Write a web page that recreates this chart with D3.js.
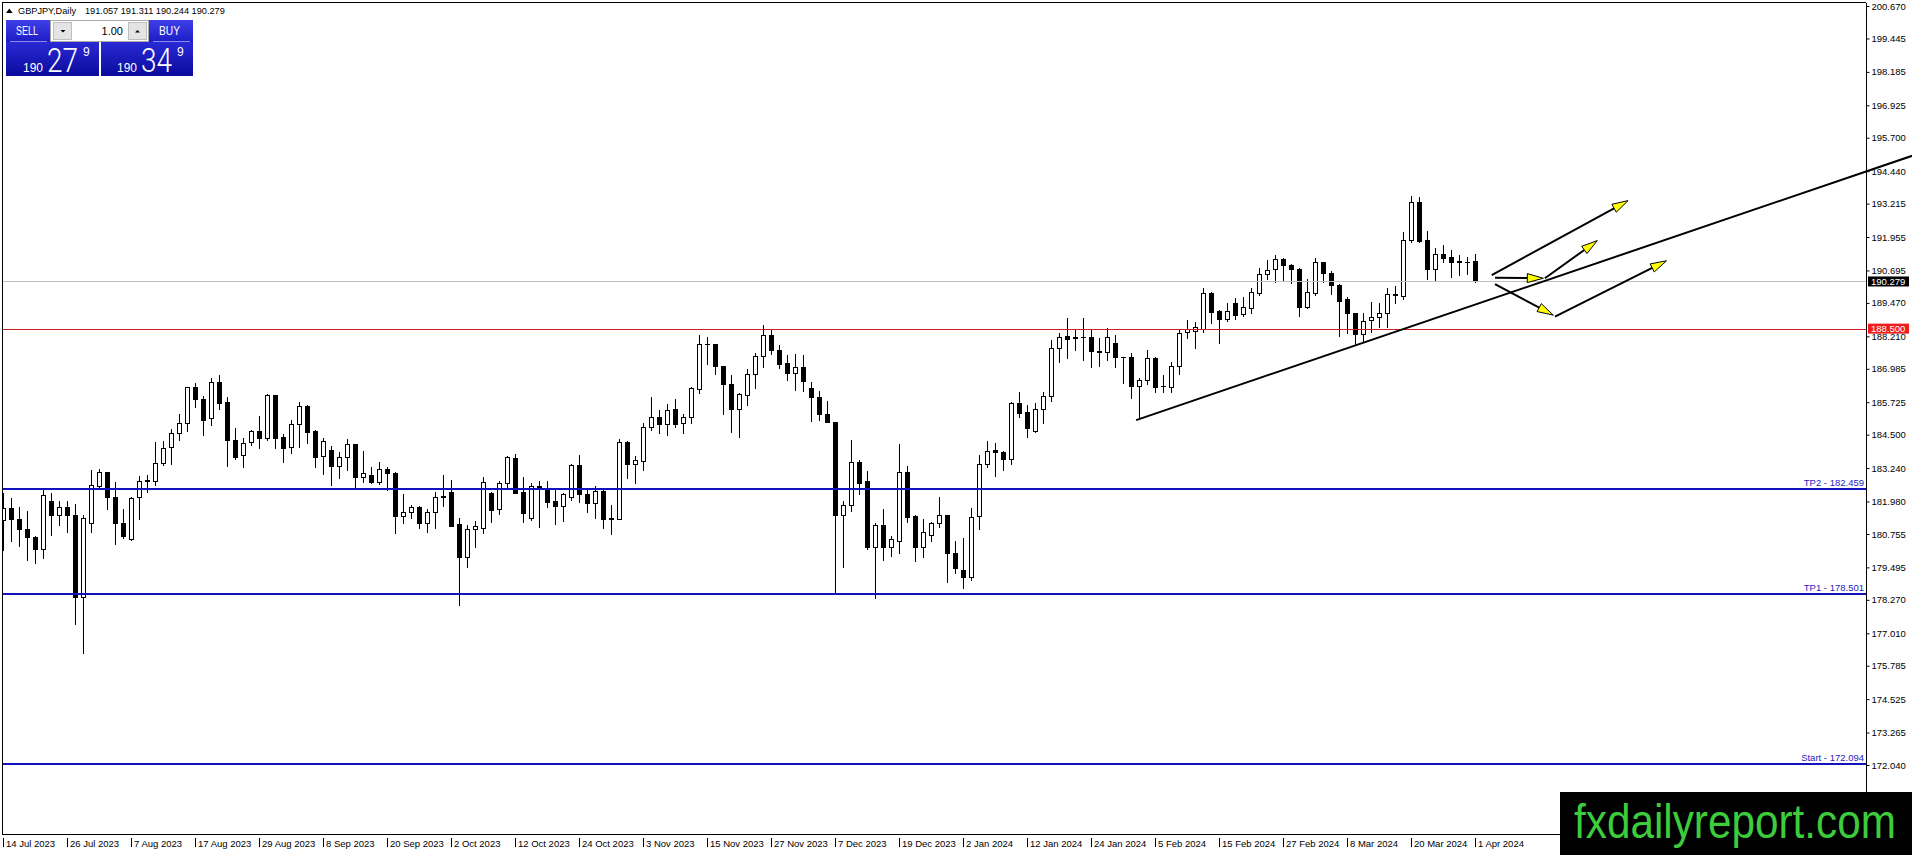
<!DOCTYPE html>
<html>
<head>
<meta charset="utf-8">
<script src="https://cdn.jsdelivr.net/npm/d3@7"></script>
<style>
html, body { margin:0; padding:0; background:#fff; overflow:hidden; }
svg { display:block; font-family:"Liberation Sans", Arial, sans-serif; }
</style>
</head>
<body>
<div class="Graph"></div>
<script>
//==========================================//data (GBPJPY daily, 14 Jul 2023 - 1 Apr 2024)
const opens = [
181.28,181.72,181.31,180.93,180.63,180.20,181.98,181.46,181.77,181.46,
178.39,181.18,182.58,183.08,182.14,181.15,180.55,182.14,182.79,182.76,
183.44,184.05,184.55,184.93,186.29,185.83,185.12,186.47,185.72,184.29,
183.72,184.21,184.62,184.39,185.98,184.40,184.05,184.89,185.58,184.64,
183.70,183.92,183.33,183.67,184.15,182.92,182.97,182.73,183.20,183.04,
181.44,181.57,181.77,181.18,181.57,182.19,182.32,181.13,179.90,180.93,
180.99,182.29,181.70,182.66,183.61,182.32,181.37,182.56,182.46,181.98,
181.82,182.16,183.34,182.26,181.91,182.37,181.34,181.33,184.21,183.38,
183.52,184.78,185.18,184.89,185.46,184.93,185.18,186.23,187.93,187.92,
187.09,186.40,185.48,186.00,186.78,187.47,188.25,187.69,187.19,186.84,
187.04,186.25,185.91,185.28,184.97,181.46,181.83,183.46,182.74,180.25,
181.08,180.25,180.50,183.08,181.43,180.27,180.70,181.16,181.47,180.02,
179.39,179.12,181.44,183.38,183.92,183.85,183.57,185.68,185.34,184.63,
185.45,185.96,187.76,188.21,188.17,188.17,188.17,187.64,187.61,187.94,
187.44,187.42,186.35,186.55,187.38,186.35,186.31,187.08,188.36,188.42,
188.47,189.83,189.16,188.85,189.45,189.05,189.29,189.86,190.55,190.74,
191.11,190.90,190.74,189.30,189.83,191.01,190.59,190.13,189.62,189.08,
188.28,188.81,188.93,189.08,189.78,189.74,191.83,193.26,191.83,190.74,
191.30,191.19,191.04,191.03,191.057];
const highs = [
182.29,182.10,181.78,181.62,180.68,182.45,182.31,182.01,182.01,181.88,
181.46,183.18,183.22,183.10,182.70,181.70,182.15,182.94,182.98,184.22,
184.25,184.70,185.28,186.31,186.46,185.96,186.62,186.75,185.91,184.74,
184.36,184.68,185.20,186.03,185.98,184.52,185.05,185.73,185.63,184.68,
184.39,184.08,183.86,184.32,184.15,183.88,183.29,183.46,183.27,183.08,
182.26,181.85,181.80,181.68,182.35,182.97,182.79,181.34,181.09,181.24,
182.92,182.34,182.74,183.70,183.76,182.89,182.66,182.75,182.75,182.41,
182.31,183.39,183.73,182.48,182.57,182.41,181.85,184.34,184.26,183.70,
184.95,185.91,185.43,185.66,185.84,185.27,186.31,188.26,188.20,187.92,
187.09,186.75,186.06,186.96,187.57,188.65,188.45,187.88,187.52,187.54,
187.52,186.50,186.15,185.77,184.97,181.98,184.30,183.54,183.13,181.18,
181.68,180.68,184.14,183.32,181.48,181.31,181.22,182.16,181.47,180.49,
180.59,181.72,183.73,184.26,184.17,183.89,185.72,186.10,185.62,185.71,
186.12,188.07,188.35,188.89,188.45,188.89,188.45,188.13,188.51,188.26,
187.44,187.57,186.65,187.69,187.42,186.75,187.25,188.47,188.83,188.76,
190.02,189.89,189.20,189.45,189.64,189.68,190.02,190.77,191.09,191.28,
191.18,190.94,190.77,190.36,191.15,191.01,190.69,190.17,189.68,189.10,
189.10,189.49,189.48,190.02,190.11,192.16,193.50,193.48,192.20,191.53,
191.65,191.47,191.28,191.19,191.311];
const lows = [
180.15,180.49,180.31,179.77,179.67,179.86,180.73,181.10,180.83,177.37,
176.28,180.83,182.54,181.71,180.39,180.61,180.53,181.33,182.32,182.60,
183.34,183.41,184.30,184.65,185.53,184.50,184.85,185.48,183.32,183.57,
183.29,184.11,184.01,184.30,184.01,183.48,183.80,184.02,184.20,183.29,
183.00,182.60,182.88,183.17,182.48,182.73,182.66,182.64,182.41,180.80,
181.16,181.37,180.99,180.84,180.99,181.81,181.07,178.08,179.52,180.25,
180.80,181.22,181.49,182.48,182.29,181.22,181.28,181.03,181.78,181.12,
181.24,182.03,181.97,181.59,181.37,180.99,180.74,181.31,182.88,182.69,
183.17,184.67,184.55,184.49,184.80,184.57,184.95,186.06,187.15,186.77,
185.27,184.59,184.42,185.62,186.25,187.07,187.54,187.00,186.56,186.19,
186.16,185.03,185.05,184.97,178.58,179.52,181.63,182.25,180.17,178.33,
179.77,179.94,180.02,181.22,179.75,179.90,180.50,181.03,178.95,179.27,
178.70,179.02,180.94,183.29,182.95,183.17,183.39,185.18,184.42,184.61,
184.95,185.78,187.23,187.38,187.69,187.32,187.06,187.10,187.32,187.06,
186.46,185.90,185.18,186.41,186.12,186.12,186.12,186.79,188.16,187.78,
188.36,188.70,187.94,188.78,188.85,188.98,189.10,189.77,190.36,190.27,
190.33,190.21,188.99,189.27,189.77,190.27,189.79,188.22,188.32,187.91,
188.01,188.39,188.55,188.55,189.48,189.60,191.78,191.78,190.36,190.31,
191.03,190.46,190.52,190.55,190.244];
const closes = [
181.72,181.31,180.93,180.63,180.20,182.21,181.46,181.77,181.46,178.39,
181.34,182.59,183.08,182.14,181.15,180.68,182.11,182.74,182.74,183.44,
183.98,184.55,184.93,186.29,185.83,185.05,186.47,185.71,184.29,183.67,
184.17,184.62,184.39,185.98,184.39,184.01,184.90,185.58,184.61,183.67,
184.26,183.33,183.65,184.15,182.92,183.04,182.73,183.20,183.07,181.44,
181.57,181.77,181.18,181.58,182.14,182.14,181.07,179.90,180.93,181.05,
182.70,181.66,182.66,183.66,182.31,181.56,182.56,182.48,181.97,181.82,
182.26,183.35,182.25,181.91,182.37,181.33,181.31,184.21,183.38,183.54,
184.80,185.18,184.89,185.43,184.91,185.18,186.25,187.92,187.91,187.09,
186.40,185.48,186.03,186.79,187.47,188.25,187.69,187.15,186.84,187.04,
186.54,185.91,185.28,184.97,181.46,181.83,183.46,182.69,180.25,181.08,
180.25,180.55,183.08,181.41,180.27,180.82,181.16,181.47,180.02,179.48,
179.12,181.41,183.38,183.88,183.83,183.57,185.68,185.30,184.74,185.45,
185.96,187.76,188.20,188.12,188.16,188.18,187.67,187.61,188.17,187.42,
187.43,186.35,186.55,187.38,186.31,186.34,187.08,188.35,188.47,188.55,
189.83,189.14,188.85,189.18,189.03,189.30,189.87,190.55,190.71,191.11,
190.89,190.74,189.30,189.89,191.00,190.59,190.13,189.55,189.08,188.28,
188.80,188.94,189.10,189.79,189.79,191.83,193.26,191.80,190.76,191.30,
191.18,191.03,191.02,191.02,190.279];

const dateLabels = ["14 Jul 2023","26 Jul 2023","7 Aug 2023","17 Aug 2023","29 Aug 2023","8 Sep 2023",
  "20 Sep 2023","2 Oct 2023","12 Oct 2023","24 Oct 2023","3 Nov 2023","15 Nov 2023","27 Nov 2023",
  "7 Dec 2023","19 Dec 2023","2 Jan 2024","12 Jan 2024","24 Jan 2024","5 Feb 2024","15 Feb 2024",
  "27 Feb 2024","8 Mar 2024","20 Mar 2024","1 Apr 2024"];
const dateIdx = [0,8,16,24,32,40,48,56,64,72,80,88,96,104,112,120,128,136,144,152,160,168,176,184];

const priceTicks = [200.670,199.445,198.185,196.925,195.700,194.440,193.215,191.955,190.695,189.470,
  188.210,186.985,185.725,184.500,183.240,181.980,180.755,179.495,178.270,177.010,175.785,174.525,173.265,172.040];

const levelNames = ["TP2","TP1","Start"];
const levelPrices = [182.459,178.501,172.094];
const bidPrice = 190.279;
const redPrice = 188.500;
const quote = ["191.057","191.311","190.244","190.279"];

const trendIdx = [141.6, 238.6];
const trendPrice = [185.05, 195.02];
// arrows: [from bar, from price, to bar, to price]
const arrows = [
  [186.05,190.52,203.10,193.33],
  [186.46,190.42,192.50,190.40],
  [192.70,190.40,199.25,191.82],
  [186.46,190.18,193.75,189.01],
  [193.96,188.95,207.90,191.06]];

//==========================================//svg area
const W = 1912, H = 855;
const plotRight = 1866, plotBottom = 834;

let svg = d3.select(".Graph").append("svg")
  .attr("width", W).attr("height", H)
  .attr("viewBox", [0, 0, W, H]);
svg.append("rect").attr("width", W).attr("height", H).attr("fill", "#fff");

let defs = svg.append("defs");
defs.append("clipPath").attr("id", "plotClip")
  .append("rect").attr("x", 3).attr("y", 3).attr("width", plotRight - 3).attr("height", plotBottom - 3);
let g1 = defs.append("linearGradient").attr("id", "hdrGrad").attr("x1", 0).attr("y1", 0).attr("x2", 0).attr("y2", 1);
g1.append("stop").attr("offset", "0%").attr("stop-color", "#4040ea");
g1.append("stop").attr("offset", "100%").attr("stop-color", "#1c1cc4");
let g2 = defs.append("linearGradient").attr("id", "pxGrad").attr("x1", 0).attr("y1", 0).attr("x2", 0).attr("y2", 1);
g2.append("stop").attr("offset", "0%").attr("stop-color", "#2a2ad6");
g2.append("stop").attr("offset", "100%").attr("stop-color", "#0a0a9c");

let x = d3.scaleLinear().domain([0, 184]).range([3.3, 1475.3]);
let y = d3.scaleLinear().domain([172.040, 200.670]).range([765, 6]);

//==========================================//candles
let plot = svg.append("g").attr("clip-path", "url(#plotClip)");
let cg = plot.append("g").attr("shape-rendering", "crispEdges");
d3.range(opens.length).forEach(i => {
  let px = Math.round(x(i));
  let o = opens[i], c = closes[i];
  let up = c >= o;
  cg.append("line")
    .attr("x1", px + 0.5).attr("x2", px + 0.5)
    .attr("y1", Math.round(y(highs[i]))).attr("y2", Math.round(y(lows[i])) + 1)
    .attr("stroke", "#000").attr("stroke-width", 1);
  let top = Math.round(y(Math.max(o, c)));
  let bot = Math.round(y(Math.min(o, c)));
  if (bot - top < 1) {
    cg.append("line")
      .attr("x1", px - 2).attr("x2", px + 3)
      .attr("y1", top + 0.5).attr("y2", top + 0.5)
      .attr("stroke", "#000").attr("stroke-width", 1);
  } else {
    cg.append("rect")
      .attr("x", px - 1.5).attr("y", top + 0.5)
      .attr("width", 4).attr("height", bot - top)
      .attr("fill", up ? "#fff" : "#000")
      .attr("stroke", "#000").attr("stroke-width", 1);
  }
});

//==========================================//horizontal levels
plot.append("line")
  .attr("x1", 3).attr("x2", plotRight)
  .attr("y1", Math.round(y(bidPrice)) + 0.5).attr("y2", Math.round(y(bidPrice)) + 0.5)
  .attr("stroke", "#c0c0c0").attr("stroke-width", 1);
plot.append("line")
  .attr("x1", 3).attr("x2", plotRight)
  .attr("y1", Math.round(y(redPrice)) + 0.5).attr("y2", Math.round(y(redPrice)) + 0.5)
  .attr("stroke", "#cc2020").attr("stroke-width", 1);

levelPrices.forEach((p, k) => {
  let ly = Math.round(y(p));
  plot.append("line")
    .attr("x1", 3).attr("x2", plotRight)
    .attr("y1", ly).attr("y2", ly)
    .attr("stroke", "#1212bf").attr("stroke-width", 2);
  svg.append("text")
    .attr("x", plotRight - 2).attr("y", ly - 3)
    .attr("text-anchor", "end")
    .attr("font-size", 9.5)
    .attr("fill", "#2424c4")
    .text(levelNames[k] + " - " + p.toFixed(3));
});

//==========================================//trendline + arrows
svg.append("line")
  .attr("x1", x(trendIdx[0])).attr("y1", y(trendPrice[0]))
  .attr("x2", x(trendIdx[1])).attr("y2", y(trendPrice[1]))
  .attr("stroke", "#000").attr("stroke-width", 2);

arrows.forEach(a => {
  let x1 = x(a[0]), y1 = y(a[1]), x2 = x(a[2]), y2 = y(a[3]);
  let len = Math.hypot(x2 - x1, y2 - y1);
  let ux = (x2 - x1) / len, uy = (y2 - y1) / len;
  let hl = 16, hw = 4.5;
  let bx = x2 - ux * hl, by = y2 - uy * hl;
  svg.append("line")
    .attr("x1", x1).attr("y1", y1).attr("x2", bx).attr("y2", by)
    .attr("stroke", "#000").attr("stroke-width", 2);
  svg.append("path")
    .attr("d", "M" + x2 + "," + y2 +
      "L" + (bx - uy * hw) + "," + (by + ux * hw) +
      "L" + (bx + uy * hw) + "," + (by - ux * hw) + "Z")
    .attr("fill", "#ffff00").attr("stroke", "#000").attr("stroke-width", 1);
});

//==========================================//frame
svg.append("path")
  .attr("d", "M" + plotRight + ",2.5H2.5V" + (plotBottom + 0.5) + "H" + (plotRight + 0.5) + "V2.5")
  .attr("fill", "none").attr("stroke", "#000").attr("stroke-width", 1)
  .attr("shape-rendering", "crispEdges");

//==========================================//price axis
let yAxis = d3.axisRight(y).tickValues(priceTicks).tickFormat(d3.format(".3f")).tickSize(3).tickPadding(2);
let ya = svg.append("g").attr("transform", "translate(" + (plotRight + 0.5) + ",0)").call(yAxis);
ya.select(".domain").remove();
ya.attr("font-family", "'Liberation Sans', Arial, sans-serif").attr("font-size", 9.5);
ya.selectAll("line").attr("stroke", "#000");
ya.selectAll("text").attr("fill", "#000");

function badge(p, bg, label) {
  let cy = y(p);
  svg.append("rect").attr("x", 1868).attr("y", cy - 5).attr("width", 41).attr("height", 10).attr("fill", bg);
  svg.append("text").attr("x", 1871).attr("y", cy).attr("dy", "0.35em")
    .attr("font-size", 9.5).attr("fill", "#fff").text(label);
}
badge(bidPrice, "#000", bidPrice.toFixed(3));
badge(redPrice, "#ee1c1c", redPrice.toFixed(3));

//==========================================//date axis
let xa = svg.append("g");
xa.selectAll(".dtick").data(dateIdx).enter().append("line")
  .attr("x1", d => Math.round(x(d)) + 0.5).attr("x2", d => Math.round(x(d)) + 0.5)
  .attr("y1", plotBottom + 4).attr("y2", plotBottom + 13)
  .attr("stroke", "#000").attr("stroke-width", 1);
xa.selectAll(".dlab").data(dateIdx).enter().append("text")
  .attr("x", d => Math.round(x(d)) + 3)
  .attr("y", plotBottom + 13)
  .attr("font-size", 9.5).attr("fill", "#000")
  .text((d, k) => dateLabels[k]);

//==========================================//title + trade panel
svg.append("path").attr("d", "M6,13L12.7,13L9.3,8.5Z").attr("fill", "#000");
svg.append("text").attr("x", 18).attr("y", 14).attr("font-size", 9.2).attr("fill", "#000")
  .text("GBPJPY,Daily");
svg.append("text").attr("x", 85).attr("y", 14).attr("font-size", 9.2).attr("fill", "#000")
  .text(quote.join(" "));

let panel = svg.append("g");
panel.append("rect").attr("x", 6).attr("y", 20).attr("width", 44).attr("height", 22).attr("fill", "url(#hdrGrad)");
panel.append("rect").attr("x", 149).attr("y", 20).attr("width", 44).attr("height", 22).attr("fill", "url(#hdrGrad)");
panel.append("rect").attr("x", 50.5).attr("y", 20.5).attr("width", 98).attr("height", 21)
  .attr("fill", "#fff").attr("stroke", "#a8a8a8");
panel.append("rect").attr("x", 53.5).attr("y", 22.5).attr("width", 18).attr("height", 17)
  .attr("fill", "#e4e4e4").attr("stroke", "#bdbdbd");
panel.append("rect").attr("x", 128.5).attr("y", 22.5).attr("width", 18).attr("height", 17)
  .attr("fill", "#e4e4e4").attr("stroke", "#bdbdbd");
panel.append("path").attr("d", "M60.5,30L65.5,30L63,32.5Z").attr("fill", "#000");
panel.append("path").attr("d", "M135,32.5L140,32.5L137.5,30Z").attr("fill", "#000");
panel.append("text").attr("x", 123).attr("y", 34.5).attr("text-anchor", "end")
  .attr("font-size", 11).attr("fill", "#000").text("1.00");

panel.append("rect").attr("x", 6).attr("y", 42).attr("width", 93).attr("height", 34).attr("fill", "url(#pxGrad)");
panel.append("rect").attr("x", 101).attr("y", 42).attr("width", 92).attr("height", 34).attr("fill", "url(#pxGrad)");
panel.append("line").attr("x1", 10).attr("x2", 47).attr("y1", 41.5).attr("y2", 41.5).attr("stroke", "#8a8af0");
panel.append("line").attr("x1", 153).attr("x2", 190).attr("y1", 41.5).attr("y2", 41.5).attr("stroke", "#8a8af0");

panel.append("text").attr("x", 16).attr("y", 35).attr("font-size", 12.5).attr("fill", "#fff")
  .attr("textLength", 22).attr("lengthAdjust", "spacingAndGlyphs").text("SELL");
panel.append("text").attr("x", 159).attr("y", 35).attr("font-size", 12.5).attr("fill", "#fff")
  .attr("textLength", 21).attr("lengthAdjust", "spacingAndGlyphs").text("BUY");

function priceBox(x0, big, pip) {
  panel.append("text").attr("x", x0).attr("y", 72).attr("font-size", 13).attr("fill", "#fff")
    .attr("textLength", 20).attr("lengthAdjust", "spacingAndGlyphs").text("190");
  panel.append("text").attr("x", x0 + 24).attr("y", 72).attr("font-size", 34)
    .attr("font-family", "Roboto, 'Open Sans', sans-serif").attr("font-weight", 300)
    .attr("fill", "#fff").attr("textLength", 31).attr("lengthAdjust", "spacingAndGlyphs").text(big);
  panel.append("text").attr("x", x0 + 60).attr("y", 56).attr("font-size", 12).attr("fill", "#fff").text(pip);
}
priceBox(23, quote[3].slice(4, 6), "9");
priceBox(117, "34", "9");

//==========================================//watermark
svg.append("rect").attr("x", 1560).attr("y", 792).attr("width", W - 1560).attr("height", H - 792).attr("fill", "#000");
let wm = svg.append("text")
  .attr("x", 0).attr("y", 0)
  .attr("font-family", "'Liberation Sans Narrow', 'Arial Narrow', 'Liberation Sans', Arial, sans-serif")
  .attr("font-size", 48).attr("fill", "#3ccc3c")
  .text("fxdailyreport.com");
let wmLen = wm.node().getComputedTextLength();
wm.attr("transform", "translate(1574,838) scale(" + (322 / wmLen) + ",1)");
</script>
</body>
</html>
